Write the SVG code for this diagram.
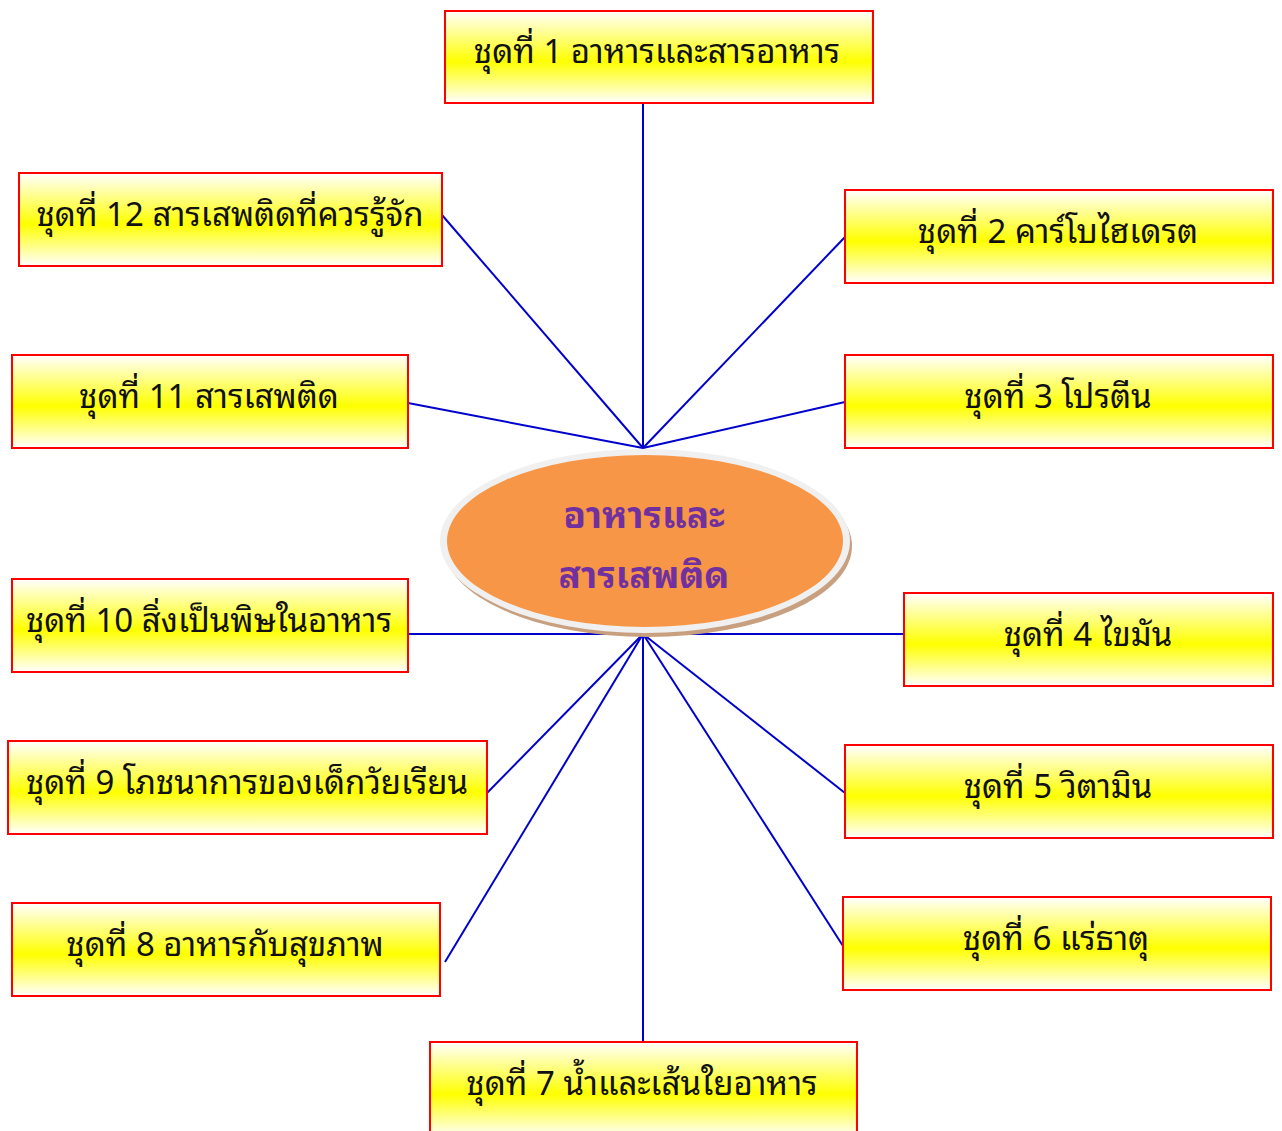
<svg xmlns="http://www.w3.org/2000/svg" width="1282" height="1131" viewBox="0 0 1282 1131">
<style>
.box{fill:url(#yg);stroke:#ff0000;stroke-width:2}
.lbl{font-family:"Noto Sans Thai Looped","Noto Serif Thai","Noto Sans Thai","Noto Sans","DejaVu Sans",sans-serif;font-size:33px;fill:#111;text-anchor:middle}
.ctr{font-family:"Noto Sans Thai Looped","Noto Sans Thai","Noto Sans","DejaVu Sans",sans-serif;font-size:37px;font-weight:bold;fill:#7030a0;text-anchor:middle}
.ln{stroke:#0000cc;stroke-width:2;fill:none}
</style>
<defs>
<linearGradient id="yg" x1="0" y1="0" x2="0" y2="1">
<stop offset="0" stop-color="#ffffff"/>
<stop offset="0.55" stop-color="#ffff00"/>
<stop offset="1" stop-color="#ffffff"/>
</linearGradient>
</defs>
<rect width="1282" height="1131" fill="#ffffff"/>
<g id="connectors">
<line class="ln" x1="643" y1="448" x2="643" y2="103"/>
<line class="ln" x1="643" y1="448" x2="442" y2="215"/>
<line class="ln" x1="643" y1="448" x2="845" y2="237"/>
<line class="ln" x1="643" y1="448" x2="408" y2="403"/>
<line class="ln" x1="643" y1="448" x2="845" y2="402"/>
<line class="ln" x1="408" y1="634" x2="904" y2="634"/>
<line class="ln" x1="643" y1="634" x2="487" y2="793"/>
<line class="ln" x1="643" y1="634" x2="445" y2="962"/>
<line class="ln" x1="643" y1="634" x2="643" y2="1042"/>
<line class="ln" x1="643" y1="634" x2="845" y2="793"/>
<line class="ln" x1="643" y1="634" x2="843" y2="946"/>
</g>
<g id="center">
<ellipse cx="648" cy="546" rx="204" ry="91" fill="#c9a07f"/>
<ellipse cx="645" cy="541" rx="205" ry="92" fill="#f0f0f0"/>
<ellipse cx="645" cy="541" rx="198" ry="86" fill="#f79646"/>
<text class="ctr" x="644" y="528">อาหารและ</text>
<text class="ctr" x="644" y="588">สารเสพติด</text>
</g>
<g id="n1"><rect class="box" x="445" y="11" width="428" height="92"/><text class="lbl" x="657" y="63">ชุดที่ 1 อาหารและสารอาหาร</text></g>
<g id="n2"><rect class="box" x="845" y="190" width="428" height="93"/><text class="lbl" x="1058" y="243">ชุดที่ 2 คาร์โบไฮเดรต</text></g>
<g id="n3"><rect class="box" x="845" y="355" width="428" height="93"/><text class="lbl" x="1058" y="408">ชุดที่ 3 โปรตีน</text></g>
<g id="n4"><rect class="box" x="904" y="593" width="369" height="93"/><text class="lbl" x="1088" y="646">ชุดที่ 4 ไขมัน</text></g>
<g id="n5"><rect class="box" x="845" y="745" width="428" height="93"/><text class="lbl" x="1058" y="798">ชุดที่ 5 วิตามิน</text></g>
<g id="n6"><rect class="box" x="843" y="897" width="428" height="93"/><text class="lbl" x="1056" y="950">ชุดที่ 6 แร่ธาตุ</text></g>
<g id="n7"><rect class="box" x="430" y="1042" width="427" height="95"/><text class="lbl" x="642" y="1095">ชุดที่ 7 น้ำและเส้นใยอาหาร</text></g>
<g id="n8"><rect class="box" x="12" y="903" width="428" height="93"/><text class="lbl" x="225" y="956">ชุดที่ 8 อาหารกับสุขภาพ</text></g>
<g id="n9"><rect class="box" x="8" y="741" width="479" height="93"/><text class="lbl" x="247" y="794">ชุดที่ 9 โภชนาการของเด็กวัยเรียน</text></g>
<g id="n10"><rect class="box" x="12" y="579" width="396" height="93"/><text class="lbl" x="209" y="632">ชุดที่ 10 สิ่งเป็นพิษในอาหาร</text></g>
<g id="n11"><rect class="box" x="12" y="355" width="396" height="93"/><text class="lbl" x="209" y="408">ชุดที่ 11 สารเสพติด</text></g>
<g id="n12"><rect class="box" x="19" y="173" width="423" height="93"/><text class="lbl" x="230" y="226">ชุดที่ 12 สารเสพติดที่ควรรู้จัก</text></g>
</svg>
